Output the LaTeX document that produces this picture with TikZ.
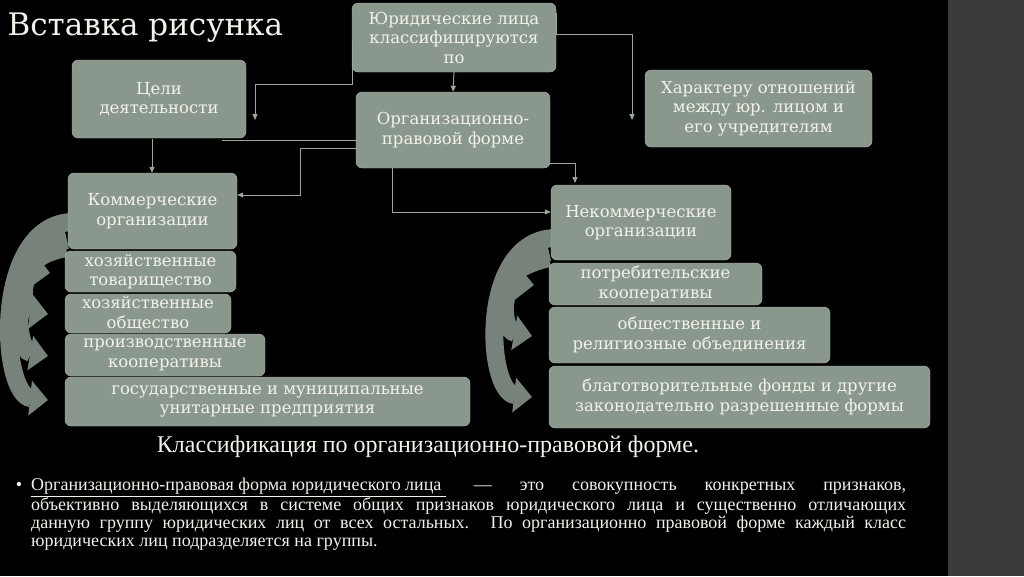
\documentclass[tikz,border=0pt]{standalone}
\usepackage{fontspec}
\setmainfont{DejaVu Serif}
\newfontfamily\narrowfont{Liberation Serif}
\usetikzlibrary{arrows.meta}
\definecolor{boxgray}{HTML}{8A978C}
\definecolor{arrgray}{HTML}{76827A}
\definecolor{linegray}{HTML}{9AA89C}
\definecolor{txtwhite}{HTML}{F2F2EA}
\definecolor{stripgray}{HTML}{3A3A3A}
\tikzset{
  box/.style={draw=boxgray!70!white, fill=boxgray, rounded corners=6pt, text=txtwhite,
    align=center, inner sep=1pt, font=\fontsize{16.5}{19.5}\selectfont},
  link/.style={draw=linegray, line width=1pt, -{Triangle[length=6pt,width=5pt]}},
  curvearr/.style={draw=arrgray, line width=18pt, -{Triangle[length=18pt,width=34pt]}}
}
\begin{document}
\begin{tikzpicture}[x=1pt,y=-1pt]
\useasboundingbox (0,0) rectangle (1024,576);
\fill[black] (0,0) rectangle (948,576);
\fill[stripgray] (948,0) rectangle (1024,576);

\node[anchor=west, text=txtwhite, font=\fontsize{31}{36}\selectfont] (title) at (4,28) {Вставка рисунка};

% curved bands behind the lists
\draw[curvearr] (72,222) .. controls (-8,225) and (0,395) .. (48,400);
\draw[curvearr] (66,236) .. controls (10,245) and (12,350) .. (48,356);
\draw[curvearr] (66,240) .. controls (18,255) and (18,310) .. (48,314);
\draw[curvearr] (66,248) .. controls (30,255) and (30,270) .. (50,273);
\draw[curvearr] (555,238) .. controls (478,240) and (486,392) .. (532,397);
\draw[curvearr] (549,252) .. controls (498,262) and (498,330) .. (532,336);
\draw[curvearr] (549,258) .. controls (508,268) and (508,282) .. (534,285);

% main boxes
\node[box, minimum width=204pt, minimum height=69pt] (cls) at (454,37.5) {Юридические лица\\классифицируются\\по};
\node[box, minimum width=174pt, minimum height=78pt] (goal) at (159,99) {Цели\\деятельности};
\node[box, minimum width=194pt, minimum height=76pt] (olf) at (453,130) {Организационно-\\правовой форме};
\node[box, minimum width=227pt, minimum height=77pt] (rel) at (758.5,108.5) {Характеру отношений\\между юр. лицом и\\его учредителям};
\node[box, minimum width=169pt, minimum height=76pt] (com) at (152.5,211) {Коммерческие\\организации};
\node[box, minimum width=180pt, minimum height=75pt] (ncom) at (641,222.5) {Некоммерческие\\организации};

% commercial list
\node[box, minimum width=171pt, minimum height=41pt] (c1) at (150.5,271.5) {хозяйственные\\товарищество};
\node[box, minimum width=166pt, minimum height=39pt] (c2) at (148,313.5) {хозяйственные\\общество};
\node[box, minimum width=200pt, minimum height=42pt] (c3) at (165,355) {производственные\\кооперативы};
\node[box, minimum width=405pt, minimum height=49pt] (c4) at (267.5,401.5) {государственные и муниципальные\\унитарные предприятия};

% non-commercial list
\node[box, minimum width=213pt, minimum height=42pt] (n1) at (655.5,284) {потребительские\\кооперативы};
\node[box, minimum width=281pt, minimum height=56pt] (n2) at (689.5,335) {общественные и\\религиозные объединения};
\node[box, minimum width=381pt, minimum height=62pt] (n3) at (739.5,397) {благотворительные фонды и  другие\\законодательно разрешенные формы};

% connectors
\draw[link] (cls.north west |- 0,42) -- (352,42) |- (255,84) -- (255,120);
\draw[link] ([yshift=25pt]cls.east) -- ++(0,22) -| (632,120);
\draw[link] (cls.south) -- (olf.north);
\draw[draw=linegray, line width=1pt] (222,140) -- (olf.west |- 0,140);
\draw[link] (152,139) -- (com.north -| 152,0);
\draw[link] (olf.west |- 0,148) -| (300,195) -- (com.east |- 0,195);
\draw[link] (392,168) |- (ncom.west |- 0,212);
\draw[link] (olf.east |- 0,163) -| (575,183);

\node[text=txtwhite, font=\narrowfont\fontsize{24}{26}\selectfont] (cap) at (428,447) {Классификация по организационно-правовой форме.};

\node[anchor=north west, text=txtwhite, text width=875pt, align=justify, inner sep=0pt,
  font=\narrowfont\fontsize{18}{17.8}\selectfont] (def) at (31,478)
  {\llap{\textbullet\hspace{9pt}}\underline{Организационно-правовая форма юридического лица }\ — это совокупность конкретных признаков,\linebreak
  объективно выделяющихся в системе общих признаков юридического лица и существенно отличающих\linebreak
  данную группу юридических лиц от всех остальных. По организационно правовой форме каждый класс\linebreak
  юридических лиц подразделяется на группы.};
\end{tikzpicture}
\end{document}
